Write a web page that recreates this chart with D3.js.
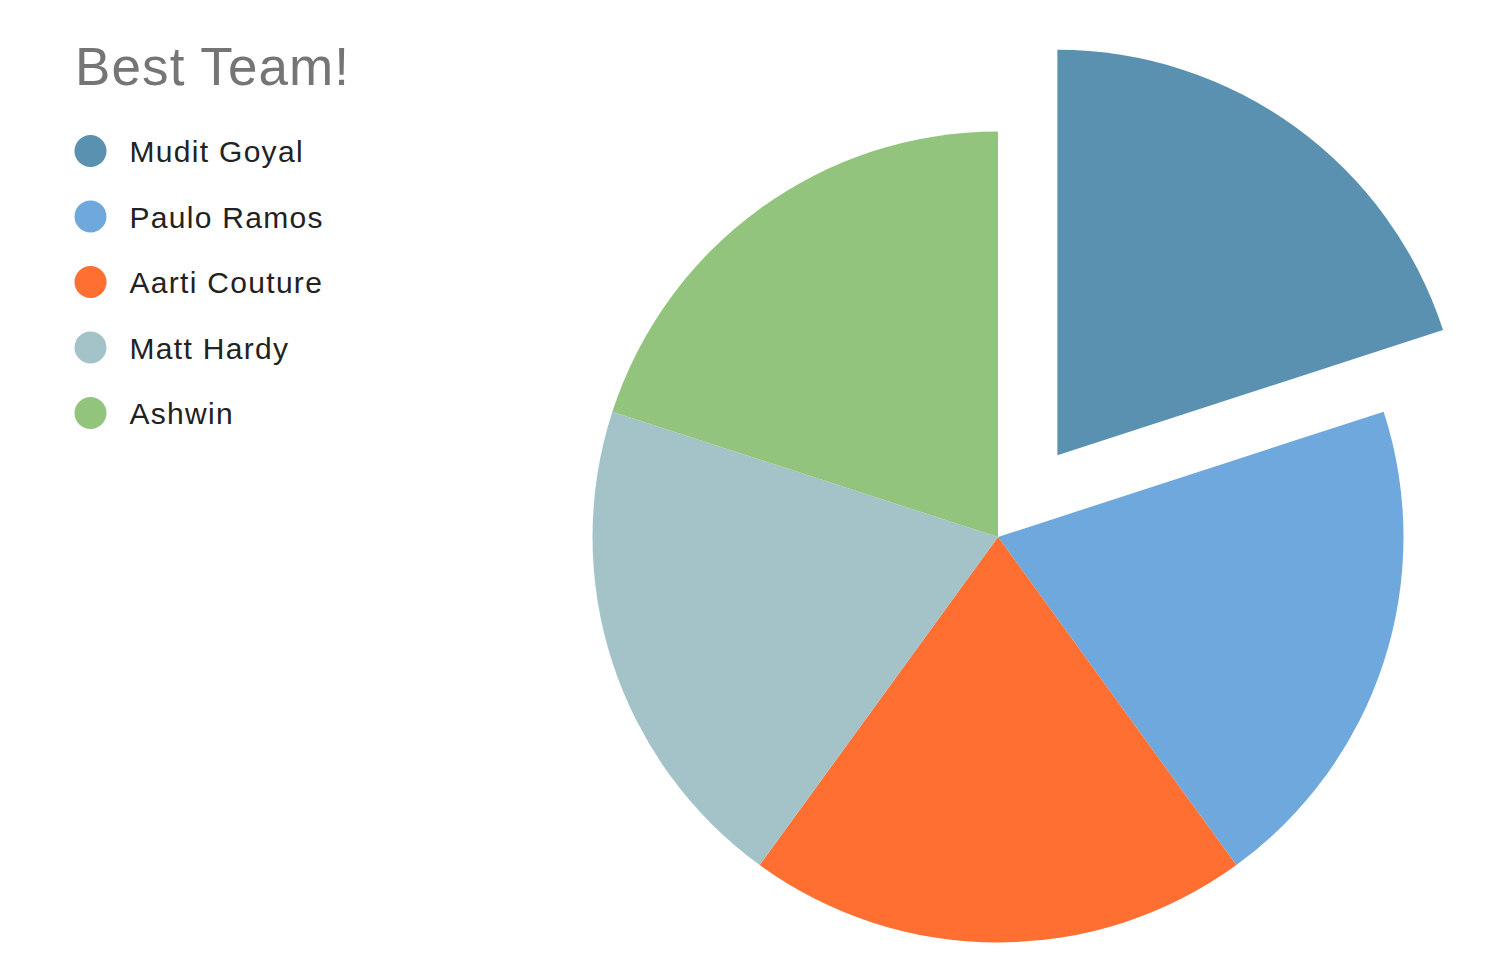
<!DOCTYPE html>
<html><head><meta charset="utf-8">
<script src="https://cdn.jsdelivr.net/npm/d3@7"></script>
<style>html,body{margin:0;padding:0;background:#fff;}svg{display:block;font-family:"Liberation Sans",Arial,sans-serif;}</style>
</head><body>
<svg id="chart" width="1511" height="959"></svg>
<script>
const title = "Best Team!";
const names = ["Mudit Goyal","Paulo Ramos","Aarti Couture","Matt Hardy","Ashwin"];
const values = [20,20,20,20,20];
const colors = ["#5a91b0","#6fa8dc","#ff6f31","#a3c3c9","#93c47d"];
const exploded = [true,false,false,false,false];

const svg = d3.select("#chart");
const cx = 998, cy = 537, r = 405.5, explode = 101;

svg.append("text").attr("x",75).attr("y",84.5).attr("font-size",53).attr("letter-spacing",1.1)
  .attr("fill","#757575").text(title);

const leg = svg.append("g");
names.forEach((n,i)=>{
  const y = 151 + i*65.5;
  leg.append("circle").attr("cx",90.5).attr("cy",y).attr("r",16).attr("fill",colors[i]);
  leg.append("text").attr("x",129.5).attr("y",y+11).attr("font-size",30).attr("letter-spacing",1.3)
    .attr("fill","#222").text(n);
});

const pie = d3.pie().sort(null).value(d=>d);
const arc = d3.arc().innerRadius(0).outerRadius(r);
const g = svg.append("g").attr("transform",`translate(${cx},${cy})`);
g.selectAll("path").data(pie(values)).join("path")
  .attr("d",arc)
  .attr("fill",(d,i)=>colors[i])
  .attr("transform",(d,i)=>{
    if(!exploded[i]) return null;
    const a = (d.startAngle+d.endAngle)/2;
    return `translate(${explode*Math.sin(a)},${-explode*Math.cos(a)})`;
  });
</script>
</body></html>
